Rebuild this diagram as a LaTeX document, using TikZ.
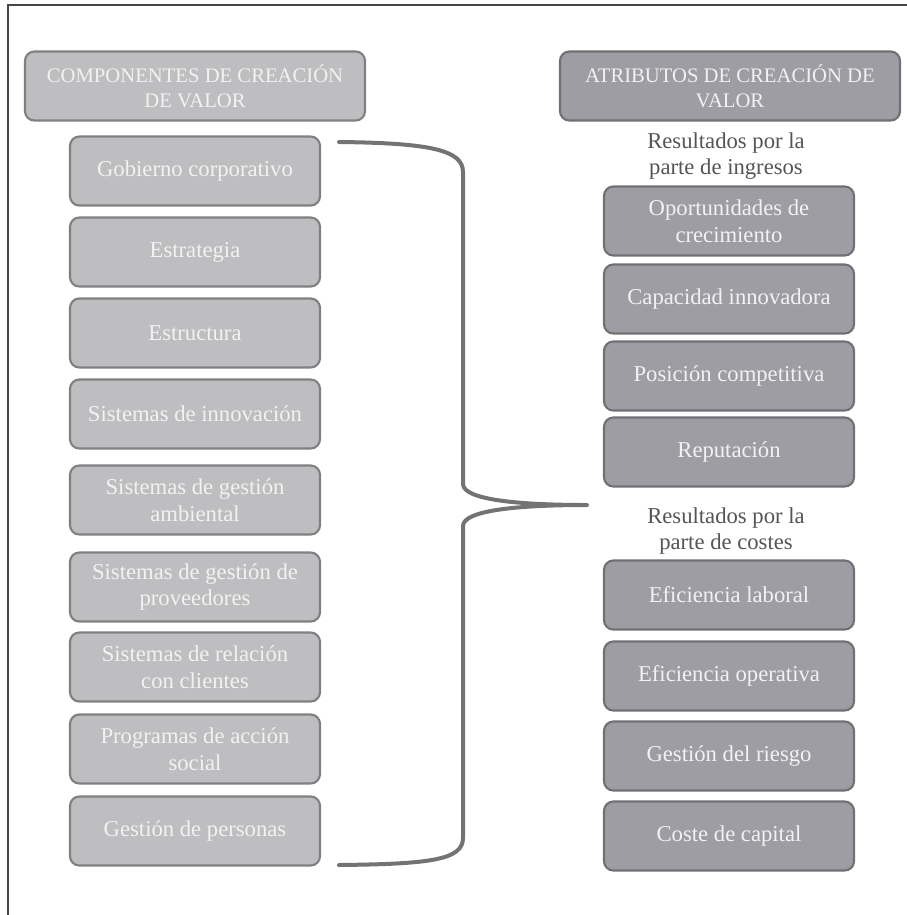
\documentclass[tikz,border=0pt]{standalone}
\usepackage{fontspec}
\setmainfont{Liberation Serif}
\begin{document}
\begin{tikzpicture}[x=0.75pt,y=-0.75pt,
  compbox/.style={draw=compLine,fill=compFill,line width=1.6pt,rounded corners=7pt,
    minimum width=187.5pt,minimum height=51.75pt,inner sep=0pt,align=center,
    text=boxText,font=\fontsize{17}{20}\selectfont},
  attrbox/.style={compbox,draw=attrLine,fill=attrFill},
  hdrbox/.style={compbox,minimum width=255pt,font=\fontsize{15.5}{19}\selectfont},
  grouplabel/.style={align=center,inner sep=0pt,text=labelText,font=\fontsize{17}{20}\selectfont},
  brace/.style={draw=braceColor,line width=3pt,line cap=round,line join=round}]
\definecolor{compFill}{RGB}{190,190,192}
\definecolor{compLine}{RGB}{128,128,130}
\definecolor{attrFill}{RGB}{157,157,163}
\definecolor{attrLine}{RGB}{112,112,117}
\definecolor{boxText}{RGB}{242,242,242}
\definecolor{labelText}{RGB}{85,85,85}
\definecolor{braceColor}{RGB}{115,115,115}
\definecolor{frameColor}{RGB}{70,70,70}
\path[use as bounding box,fill=white] (0,0) rectangle (907,915);

% frame
\draw[frameColor,line width=1.2pt] (907,5) -- (8,5) -- (8,915);

% headers
\node[hdrbox] (hdrL) at (195,86) {COMPONENTES DE CREACIÓN\\DE VALOR};
\node[hdrbox,draw=attrLine,fill=attrFill] (hdrR) at (730,86) {ATRIBUTOS DE CREACIÓN DE\\VALOR};

% components
\node[compbox] (comp1) at (195,171) {Gobierno corporativo};
\node[compbox] (comp2) at (195,252) {Estrategia};
\node[compbox] (comp3) at (195,333) {Estructura};
\node[compbox] (comp4) at (195,414) {Sistemas de innovación};
\node[compbox] (comp5) at (195,500) {Sistemas de gestión\\ambiental};
\node[compbox] (comp6) at (195,587) {Sistemas de gestión de\\proveedores};
\node[compbox] (comp7) at (195,667) {Sistemas de relación\\con clientes};
\node[compbox] (comp8) at (195,749) {Programas de acción\\social};
\node[compbox] (comp9) at (195,831) {Gestión de personas};

% attributes
\node[grouplabel] (ingresos) at (726,156) {Resultados por la\\parte de ingresos};
\node[attrbox] (attr1) at (729,221) {Oportunidades de\\crecimiento};
\node[attrbox] (attr2) at (729,299) {Capacidad innovadora};
\node[attrbox] (attr3) at (729,376) {Posición competitiva};
\node[attrbox] (attr4) at (729,452) {Reputación};
\node[grouplabel] (costes) at (726,531) {Resultados por la\\parte de costes};
\node[attrbox] (attr5) at (729,595) {Eficiencia laboral};
\node[attrbox] (attr6) at (729,676) {Eficiencia operativa};
\node[attrbox] (attr7) at (729,756) {Gestión del riesgo};
\node[attrbox] (attr8) at (729,836) {Coste de capital};

% brace
\coordinate (braceTop) at (339,142);
\coordinate (braceBot) at (339,865);
\coordinate (braceTip) at (587,505);
\draw[brace] (braceTop) .. controls (430,143) and (463,150) .. (463,172)
  -- (463,484) .. controls (463,500) and (520,505) .. (braceTip)
  .. controls (520,505) and (463,510) .. (463,526)
  -- (463,838) .. controls (463,860) and (430,864) .. (braceBot);
\end{tikzpicture}
\end{document}
